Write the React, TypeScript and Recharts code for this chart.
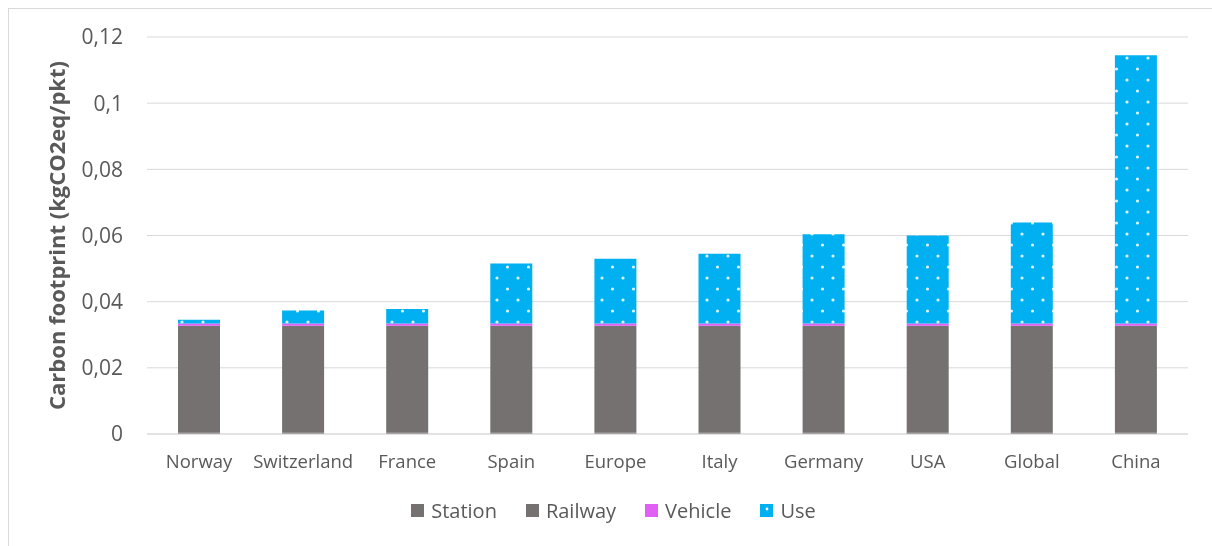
import { Bar, BarChart, CartesianGrid, Legend, XAxis, YAxis } from 'recharts';

const countries = ['Norway', 'Switzerland', 'France', 'Spain', 'Europe', 'Italy', 'Germany', 'USA', 'Global', 'China'];
const station = [0.0004, 0.0004, 0.0004, 0.0004, 0.0004, 0.0004, 0.0004, 0.0004, 0.0004, 0.0004];
const railway = [0.0323, 0.0323, 0.0323, 0.0323, 0.0323, 0.0323, 0.0323, 0.0323, 0.0323, 0.0323];
const vehicle = [0.0007, 0.0007, 0.0007, 0.0007, 0.0007, 0.0007, 0.0007, 0.0007, 0.0007, 0.0007];
const use = [0.0011, 0.0039, 0.0044, 0.0181, 0.0196, 0.0211, 0.0270, 0.0266, 0.0305, 0.0811];
const yTicks = [0, 0.02, 0.04, 0.06, 0.08, 0.1, 0.12];

const GREY = '#767171';
const PINK = '#e060f4';
const BLUE = '#00b0f0';
const TEXT = '#595959';
const FONT = '"Open Sans", sans-serif';

const legendItems = [
  { name: 'Station', fill: GREY },
  { name: 'Railway', fill: GREY },
  { name: 'Vehicle', fill: PINK },
  { name: 'Use', fill: 'url(#dotsLegend)' },
];

function LegendBox() {
  return (
    <div style={{ display: 'flex', justifyContent: 'center', gap: 29, paddingLeft: 30, fontFamily: FONT, fontSize: 20, color: TEXT }}>
      {legendItems.map((it) => (
        <div key={it.name} style={{ display: 'flex', alignItems: 'center', gap: 7 }}>
          <svg width={13} height={13}>
            <rect width={13} height={13} fill={it.fill} />
          </svg>
          <span>{it.name}</span>
        </div>
      ))}
    </div>
  );
}

export default function App() {
  const data = countries.map((c, i) => ({
    country: c,
    Station: station[i],
    Railway: railway[i],
    Vehicle: vehicle[i],
    Use: use[i],
  }));
  const fmt = (v: number) => String(v).replace('.', ',');

  return (
    <div
      style={{
        position: 'fixed',
        top: 8,
        left: 8,
        width: 1230,
        height: 560,
        overflow: 'hidden',
        borderLeft: '1px solid #d9d9d9',
        borderTop: '1px solid #d9d9d9',
        boxSizing: 'border-box',
      }}
    >
      <svg width={0} height={0} style={{ position: 'absolute' }}>
        <defs>
          <pattern id="dots" width={21} height={22} patternUnits="userSpaceOnUse">
            <rect width={21} height={22} fill={BLUE} />
            <circle cx={5} cy={5} r={1.6} fill="#fff" fillOpacity={0.85} />
            <circle cx={15.5} cy={16} r={1.6} fill="#fff" fillOpacity={0.85} />
          </pattern>
          <pattern id="dotsLegend" width={13} height={13} patternUnits="userSpaceOnUse">
            <rect width={13} height={13} fill={BLUE} />
            <circle cx={7} cy={5} r={1.4} fill="#fff" />
          </pattern>
        </defs>
      </svg>
      <BarChart
        width={1211}
        height={537}
        data={data}
        margin={{ top: 28, right: 32, left: 0, bottom: 22 }}
        barSize={42}
        accessibilityLayer={false}
        style={{ fontFamily: FONT, outline: 'none' }}
      >
        <CartesianGrid vertical={false} stroke="#d9d9d9" />
        <XAxis
          dataKey="country"
          axisLine={{ stroke: '#d9d9d9' }}
          tickLine={false}
          tick={{ fill: TEXT, fontSize: 18.5 }}
          tickMargin={15}
          height={63}
        />
        <YAxis
          width={138}
          domain={[0, 0.12]}
          ticks={yTicks}
          tickFormatter={fmt}
          axisLine={false}
          tickLine={false}
          tick={{ fill: TEXT, fontSize: 21 }}
          tickMargin={18}
          label={{
            value: 'Carbon footprint (kgCO2eq/pkt)',
            angle: -90,
            position: 'insideLeft',
            offset: 48,
            style: { textAnchor: 'middle', fill: TEXT, fontSize: 22, fontWeight: 700 },
          }}
        />
        <Legend verticalAlign="bottom" content={() => <LegendBox />} />
        <Bar dataKey="Station" stackId="a" fill={GREY} isAnimationActive={false} />
        <Bar dataKey="Railway" stackId="a" fill={GREY} isAnimationActive={false} />
        <Bar dataKey="Vehicle" stackId="a" fill={PINK} isAnimationActive={false} />
        <Bar dataKey="Use" stackId="a" fill="url(#dots)" isAnimationActive={false} />
      </BarChart>
    </div>
  );
}
